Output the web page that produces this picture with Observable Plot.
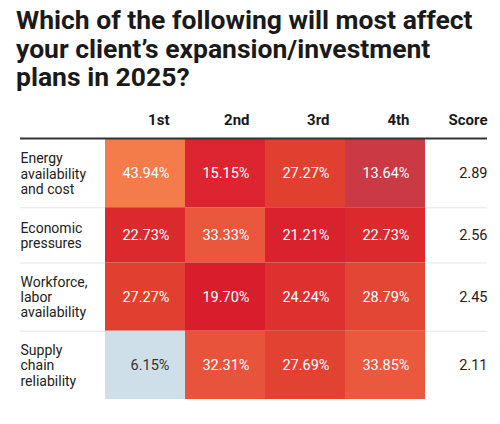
<!DOCTYPE html>
<html>
<head>
<meta charset="utf-8">
<script src="https://cdn.jsdelivr.net/npm/d3@7"></script>
<script src="https://cdn.jsdelivr.net/npm/@observablehq/plot@0.6"></script>
<style>
  body { margin: 0; background: #fff; font-family: Roboto, sans-serif; }
  #title { font: 700 26.5px/28.5px Roboto, sans-serif; color: #1a1a1a; padding: 6px 16px 0; margin: 0; }
  #chart { margin-top: 8px; }
  #chart svg { display: block; }
</style>
</head>
<body>
<h1 id="title">Which of the following will most affect your client’s expansion/investment plans in 2025?</h1>
<div id="chart"></div>
<script>
const factors = [
  "Energy\navailability\nand cost",
  "Economic\npressures",
  "Workforce,\nlabor\navailability",
  "Supply\nchain\nreliability"
];
const ranks = ["1st", "2nd", "3rd", "4th"];
const first  = [43.94, 22.73, 27.27, 6.15];
const second = [15.15, 33.33, 19.70, 32.31];
const third  = [27.27, 21.21, 24.24, 27.69];
const fourth = [13.64, 22.73, 28.79, 33.85];
const scores = [2.89, 2.56, 2.45, 2.11];

// row heights follow the number of label lines
const heights = factors.map(f => 29 + 13 * f.split("\n").length);
const tops = d3.cumsum([0, ...heights]);
const H = tops[tops.length - 1];

const rows = factors.map((f, i) => ({
  label: f,
  score: scores[i],
  top: tops[i],
  bottom: tops[i + 1],
  mid: (tops[i] + tops[i + 1]) / 2
}));

const series = [first, second, third, fourth];
const cells = rows.flatMap((r, i) => ranks.map((k, j) => ({
  rank: k,
  value: series[j][i],
  top: r.top,
  bottom: r.bottom,
  mid: r.mid
})));

const chart = Plot.plot({
  width: 500,
  height: 324,
  marginTop: 39,
  marginBottom: 25,
  marginLeft: 20,
  marginRight: 13,
  style: {fontFamily: "Roboto, sans-serif", overflow: "visible"},
  x: {domain: ranks, range: [103, 426], padding: 0, axis: null},
  y: {domain: [0, H], reverse: true, axis: null},
  color: {
    type: "linear",
    domain: [6, 13.6, 15, 20, 27.5, 33, 44],
    range: ["#cfe2ec", "#c93a45", "#dc2530", "#d91c2d", "#e14131", "#e9563c", "#f47b4a"]
  },
  marks: [
    Plot.ruleY(tops.slice(1, -1), {stroke: "#e6e6e6", strokeWidth: 1}),
    Plot.barY(cells, {x: "rank", y1: "top", y2: "bottom", fill: "value", inset: 0}),
    Plot.ruleY([0], {stroke: "#333", strokeWidth: 2, dy: -1}),
    Plot.text(ranks, {
      x: d => d, frameAnchor: "top", lineAnchor: "middle", dy: -19, dx: 24, textAnchor: "end",
      fontSize: 15, fontWeight: 700, fill: "#1a1a1a"
    }),
    Plot.text(["Score"], {
      frameAnchor: "top-right", lineAnchor: "middle", dy: -19, textAnchor: "end",
      fontSize: 15, fontWeight: 700, fill: "#1a1a1a"
    }),
    Plot.text(cells, {
      x: "rank", y: "mid", dx: 24, textAnchor: "end",
      text: d => d.value.toFixed(2) + "%",
      fill: d => d.value < 10 ? "#333" : "#fff",
      fontSize: 14.5
    }),
    Plot.text(rows, {
      y: "mid", frameAnchor: "left", textAnchor: "start",
      text: "label", lineHeight: 1.1, fontSize: 14, fill: "#222"
    }),
    Plot.text(rows, {
      y: "mid", frameAnchor: "right", textAnchor: "end",
      text: d => d.score.toFixed(2), fontSize: 14.5, fill: "#222"
    })
  ]
});

document.querySelector("#chart").append(chart);
</script>
</body>
</html>
